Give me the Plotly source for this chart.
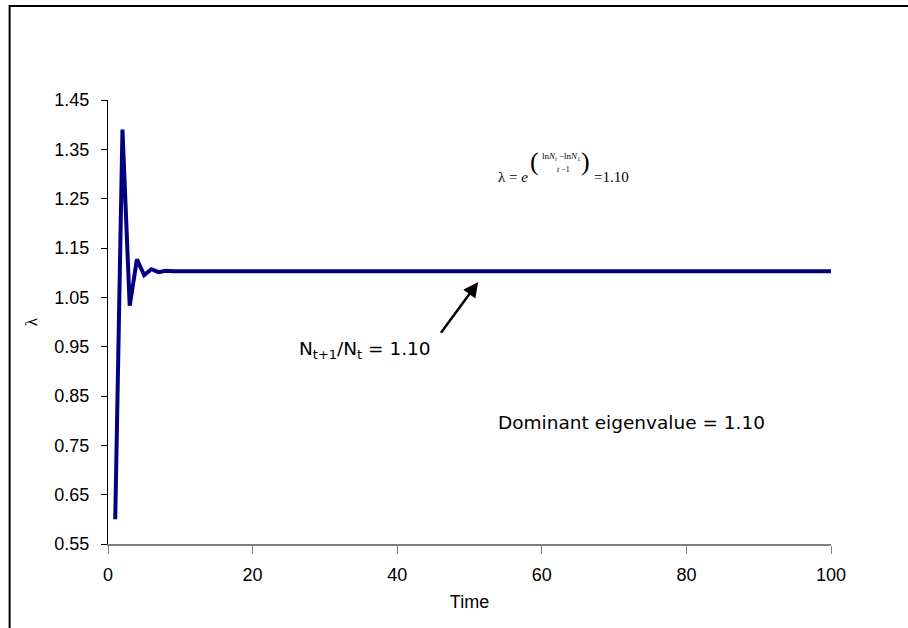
import plotly.graph_objects as go

time = list(range(1, 101))
lam = [0.600, 1.390, 1.033, 1.127, 1.095, 1.107, 1.101, 1.104, 1.103, 1.103,
       1.103, 1.103, 1.103, 1.103, 1.103, 1.103, 1.103, 1.103, 1.103, 1.103,
       1.103, 1.103, 1.103, 1.103, 1.103, 1.103, 1.103, 1.103, 1.103, 1.103,
       1.103, 1.103, 1.103, 1.103, 1.103, 1.103, 1.103, 1.103, 1.103, 1.103,
       1.103, 1.103, 1.103, 1.103, 1.103, 1.103, 1.103, 1.103, 1.103, 1.103,
       1.103, 1.103, 1.103, 1.103, 1.103, 1.103, 1.103, 1.103, 1.103, 1.103,
       1.103, 1.103, 1.103, 1.103, 1.103, 1.103, 1.103, 1.103, 1.103, 1.103,
       1.103, 1.103, 1.103, 1.103, 1.103, 1.103, 1.103, 1.103, 1.103, 1.103,
       1.103, 1.103, 1.103, 1.103, 1.103, 1.103, 1.103, 1.103, 1.103, 1.103,
       1.103, 1.103, 1.103, 1.103, 1.103, 1.103, 1.103, 1.103, 1.103, 1.103]

x_ticks = [0, 20, 40, 60, 80, 100]
y_ticks = [0.55, 0.65, 0.75, 0.85, 0.95, 1.05, 1.15, 1.25, 1.35, 1.45]
y_labels = ["0.55", "0.65", "0.75", "0.85", "0.95", "1.05", "1.15", "1.25", "1.35", "1.45"]

TICKFONT = dict(family="Liberation Sans Narrow, Arial Narrow, Liberation Sans, sans-serif", size=18, color="black")
TXTFONT = dict(family="DejaVu Sans, Verdana, sans-serif", size=18.5, color="black")
SERIF = "Liberation Serif, Times New Roman, serif"

fig = go.Figure()
fig.add_trace(go.Scatter(x=time, y=lam, mode="lines",
                         line=dict(color="#000080", width=4), showlegend=False,
                         hoverinfo="skip"))

fig.update_layout(
    width=908, height=628,
    margin=dict(l=107.5, r=76.7, t=100, b=83.7),
    paper_bgcolor="white", plot_bgcolor="white",
    xaxis=dict(range=[0, 100], tickvals=x_ticks, ticktext=[str(v) for v in x_ticks],
               showgrid=False, zeroline=False, showline=True, linecolor="#808080",
               linewidth=2, ticks="outside", tickcolor="#808080", ticklen=8, tickwidth=1,
               tickfont=TICKFONT, ticklabelstandoff=5,
               title=dict(text="Time", font=dict(family=TICKFONT["family"], size=18, color="black"), standoff=12)),
    yaxis=dict(range=[0.55, 1.45], tickvals=y_ticks, ticktext=y_labels,
               showgrid=False, zeroline=False, showline=True, linecolor="black",
               linewidth=1, ticks="outside", tickcolor="black", ticklen=6, tickwidth=1,
               tickfont=TICKFONT, ticklabelstandoff=8,
               title=dict(text="λ", font=dict(family=SERIF, size=17, color="black"), standoff=12)),
)

# outer frame (extends past the right and bottom edges)
fig.add_shape(type="rect", xref="paper", yref="paper",
              x0=(9 - 107.5) / 723.8, x1=1.4, y0=-0.4, y1=(544.3 - 6) / 444.3,
              line=dict(color="black", width=2), fillcolor="rgba(0,0,0,0)", layer="below")

# arrow pointing at steady-state line
fig.add_annotation(x=51.2, y=1.081, ax=45.9, ay=0.975, xref="x", yref="y",
                   axref="x", ayref="y", text="", showarrow=True,
                   arrowhead=2, arrowsize=1.2, arrowwidth=2.5, arrowcolor="black")

fig.add_annotation(x=35.6, y=0.944, xref="x", yref="y", showarrow=False,
                   text="N<sub>t+1</sub>/N<sub>t</sub> = 1.10", font=TXTFONT,
                   xanchor="center", yanchor="middle")
fig.add_annotation(x=72.4, y=0.796, xref="x", yref="y", showarrow=False,
                   text="Dominant eigenvalue = 1.10", font=TXTFONT,
                   xanchor="center", yanchor="middle")

# formula: lambda = e^((lnNt - lnN1)/(t-1)) = 1.10
def px2x(px):
    return (px - 107.5) / 7.238

def py2y(py):
    return 1.45 - (py - 100) / 493.7

fig.add_annotation(x=px2x(530), y=py2y(177), xref="x", yref="y", showarrow=False,
                   text="λ = <i>e</i>", font=dict(family=SERIF, size=15, color="black"),
                   xanchor="right", yanchor="middle")
fig.add_annotation(x=px2x(534), y=py2y(162), xref="x", yref="y", showarrow=False,
                   text="(", font=dict(family=SERIF, size=26, color="black"),
                   xanchor="center", yanchor="middle")
fig.add_annotation(x=px2x(586), y=py2y(162), xref="x", yref="y", showarrow=False,
                   text=")", font=dict(family=SERIF, size=26, color="black"),
                   xanchor="center", yanchor="middle")
fig.add_annotation(x=px2x(561), y=py2y(157), xref="x", yref="y", showarrow=False,
                   text="ln<i>N</i><sub><i>t</i></sub> −ln<i>N</i><sub>1</sub>",
                   font=dict(family=SERIF, size=9, color="black"),
                   xanchor="center", yanchor="middle")
fig.add_annotation(x=px2x(563), y=py2y(170), xref="x", yref="y", showarrow=False,
                   text="<i>t</i> −1", font=dict(family=SERIF, size=8, color="black"),
                   xanchor="center", yanchor="middle")
fig.add_annotation(x=px2x(592), y=py2y(177), xref="x", yref="y", showarrow=False,
                   text="=1.10", font=dict(family=SERIF, size=15, color="black"),
                   xanchor="left", yanchor="middle")

fig.write_html("out.html")
